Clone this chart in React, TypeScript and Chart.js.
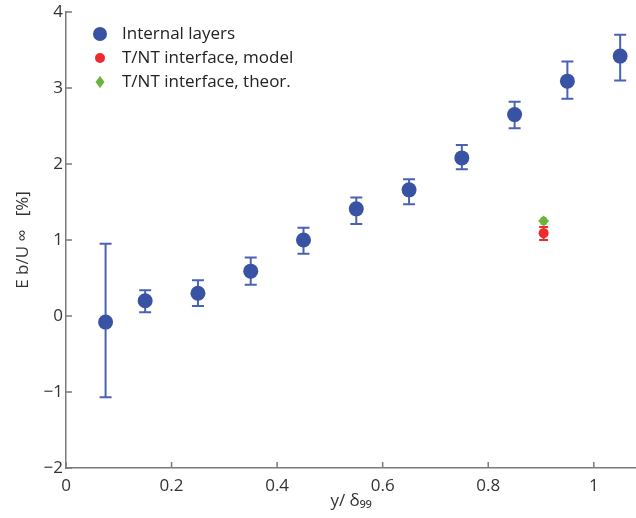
import React, { useEffect, useRef } from "react";
import { Chart, registerables } from "chart.js";

Chart.register(...registerables);

// Internal layers
const layerX = [0.075, 0.15, 0.25, 0.35, 0.45, 0.55, 0.65, 0.75, 0.85, 0.95, 1.05];
const layerY = [-0.08, 0.2, 0.3, 0.59, 1.0, 1.41, 1.66, 2.08, 2.65, 3.09, 3.42];
const layerLow = [-1.07, 0.05, 0.13, 0.41, 0.82, 1.21, 1.47, 1.93, 2.47, 2.86, 3.1];
const layerHigh = [0.95, 0.34, 0.47, 0.77, 1.16, 1.56, 1.8, 2.25, 2.82, 3.35, 3.7];

// T/NT interface, model
const modelX = [0.905];
const modelY = [1.09];
const modelLow = [1.0];
const modelHigh = [1.17];

// T/NT interface, theor.
const theorX = [0.905];
const theorY = [1.25];
const theorLow = [1.21];
const theorHigh = [1.29];

const xTicks = [0, 0.2, 0.4, 0.6, 0.8, 1];
const yTicks = [-2, -1, 0, 1, 2, 3, 4];

const BLUE = "#3953a4";
const BLUE_BAR = "#4a62b3";
const RED = "#ee2a2d";
const GREEN = "#6ab43e";
const FONT = "'Open Sans', sans-serif";

const errorBarPlugin = {
  id: "errorBars",
  beforeDatasetsDraw(chart: any) {
    const ctx = chart.ctx;
    const xs = chart.scales.x;
    const ys = chart.scales.y;
    chart.data.datasets.forEach((ds: any) => {
      if (!ds.errLow) return;
      ctx.save();
      ctx.strokeStyle = ds.errColor;
      ctx.lineWidth = ds.errWidth;
      ds.data.forEach((p: any, i: number) => {
        const px = xs.getPixelForValue(p.x);
        const y1 = ys.getPixelForValue(ds.errLow[i]);
        const y2 = ys.getPixelForValue(ds.errHigh[i]);
        const c = ds.errCap;
        ctx.beginPath();
        ctx.moveTo(px, y1);
        ctx.lineTo(px, y2);
        ctx.moveTo(px - c, y1);
        ctx.lineTo(px + c, y1);
        ctx.moveTo(px - c, y2);
        ctx.lineTo(px + c, y2);
        ctx.stroke();
      });
      ctx.restore();
    });
  },
};

const ticksPlugin = {
  id: "innerTicks",
  afterDraw(chart: any) {
    const ctx = chart.ctx;
    const xs = chart.scales.x;
    const ys = chart.scales.y;
    const a = chart.chartArea;
    ctx.save();
    ctx.strokeStyle = "#7a7a7a";
    ctx.lineWidth = 1.5;
    ctx.beginPath();
    xTicks.forEach((v) => {
      const px = xs.getPixelForValue(v);
      ctx.moveTo(px, a.bottom);
      ctx.lineTo(px, a.bottom - 6);
    });
    yTicks.forEach((v) => {
      const py = ys.getPixelForValue(v);
      ctx.moveTo(a.left, py);
      ctx.lineTo(a.left + 6, py);
    });
    ctx.stroke();
    ctx.restore();
  },
};

const legendPlugin = {
  id: "customLegend",
  afterDraw(chart: any) {
    const ctx = chart.ctx;
    const a = chart.chartArea;
    const items = [
      { label: "Internal layers", color: BLUE, shape: "circle", r: 7 },
      { label: "T/NT interface, model", color: RED, shape: "circle", r: 5 },
      { label: "T/NT interface, theor.", color: GREEN, shape: "diamond", r: 6 },
    ];
    const mx = a.left + 34;
    const tx = a.left + 56;
    let y = a.top + 22;
    ctx.save();
    ctx.font = `17px ${FONT}`;
    ctx.textBaseline = "middle";
    ctx.textAlign = "left";
    items.forEach((it) => {
      ctx.fillStyle = it.color;
      ctx.beginPath();
      if (it.shape === "circle") {
        ctx.arc(mx, y, it.r, 0, Math.PI * 2);
      } else {
        ctx.moveTo(mx, y - it.r);
        ctx.lineTo(mx + it.r * 0.75, y);
        ctx.lineTo(mx, y + it.r);
        ctx.lineTo(mx - it.r * 0.75, y);
        ctx.closePath();
      }
      ctx.fill();
      ctx.fillStyle = "#222";
      ctx.fillText(it.label, tx, y);
      y += 24;
    });
    ctx.restore();
  },
};

const fmt = (v: number) => {
  const s = String(v);
  return v < 0 ? "\u2212" + s.slice(1) : s;
};

export default function App() {
  const ref = useRef<HTMLCanvasElement | null>(null);

  useEffect(() => {
    if (!ref.current) return;
    const chart = new Chart(ref.current, {
      type: "scatter",
      data: {
        datasets: [
          {
            label: "Internal layers",
            data: layerX.map((x, i) => ({ x, y: layerY[i] })),
            backgroundColor: BLUE,
            borderColor: BLUE,
            pointRadius: 7.5,
            pointBorderWidth: 0,
            pointStyle: "circle",
            errLow: layerLow,
            errHigh: layerHigh,
            errColor: BLUE_BAR,
            errWidth: 2,
            errCap: 6,
          } as any,
          {
            label: "T/NT interface, model",
            data: modelX.map((x, i) => ({ x, y: modelY[i] })),
            backgroundColor: RED,
            borderColor: RED,
            pointRadius: 5,
            pointBorderWidth: 0,
            pointStyle: "circle",
            errLow: modelLow,
            errHigh: modelHigh,
            errColor: RED,
            errWidth: 2,
            errCap: 4.5,
          } as any,
          {
            label: "T/NT interface, theor.",
            data: theorX.map((x, i) => ({ x, y: theorY[i] })),
            backgroundColor: GREEN,
            borderColor: GREEN,
            pointRadius: 5.5,
            pointBorderWidth: 0,
            pointStyle: "rectRot",
            errLow: theorLow,
            errHigh: theorHigh,
            errColor: GREEN,
            errWidth: 1.5,
            errCap: 3,
          } as any,
        ],
      },
      options: {
        animation: false,
        responsive: false,
        maintainAspectRatio: false,
        layout: { autoPadding: false, padding: { top: 12, right: 0, left: 0, bottom: 0 } },
        plugins: {
          legend: { display: false },
          tooltip: { enabled: false },
        },
        scales: {
          x: {
            type: "linear",
            min: 0,
            max: 1.08,
            afterBuildTicks: (s: any) => {
              s.ticks = xTicks.map((v) => ({ value: v }));
            },
            afterFit: (s: any) => {
              s.height = 50;
              s.paddingLeft = 0;
              s.paddingRight = 0;
            },
            grid: { display: true, drawOnChartArea: false, drawTicks: false },
            border: { display: true, color: "#7a7a7a", width: 1.5 },
            ticks: {
              padding: 8,
              color: "#333",
              font: { family: FONT, size: 17 },
              callback: (v: any) => fmt(Number(v)),
            },
            title: {
              display: true,
              text: "y/ δ₉₉",
              color: "#333",
              font: { family: FONT, size: 17 },
              padding: { top: 0, bottom: 7 },
            },
          },
          y: {
            type: "linear",
            min: -2,
            max: 4,
            afterBuildTicks: (s: any) => {
              s.ticks = yTicks.map((v) => ({ value: v }));
            },
            afterFit: (s: any) => {
              s.width = 66;
              s.paddingTop = 0;
              s.paddingBottom = 0;
            },
            grid: { display: true, drawOnChartArea: false, drawTicks: false },
            border: { display: true, color: "#7a7a7a", width: 1.5 },
            ticks: {
              padding: 3,
              color: "#333",
              font: { family: FONT, size: 17 },
              callback: (v: any) => fmt(Number(v)),
            },
            title: {
              display: true,
              text: "E b/U ∞   [%]",
              color: "#333",
              font: { family: FONT, size: 17 },
              padding: { top: 13, bottom: 0 },
            },
          },
        },
      },
      plugins: [errorBarPlugin, ticksPlugin, legendPlugin],
    });
    return () => chart.destroy();
  }, []);

  return (
    <div style={{ position: "absolute", left: 0, top: 0, width: 636, height: 518, background: "#fff" }}>
      <canvas ref={ref} width={636} height={518} style={{ width: 636, height: 518 }} />
    </div>
  );
}
